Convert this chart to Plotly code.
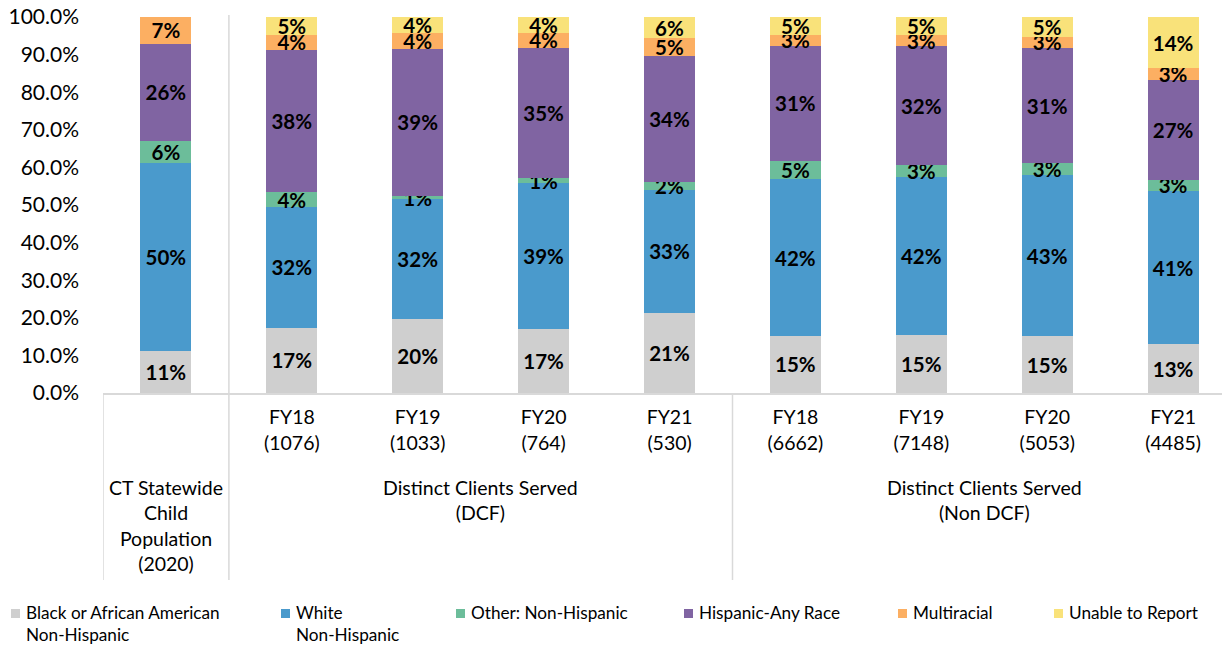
import plotly.graph_objects as go

# ---------------- data ----------------
tick_labels = ["", "FY18<br>(1076)", "FY19<br>(1033)", "FY20<br>(764)", "FY21<br>(530)",
               "FY18<br>(6662)", "FY19<br>(7148)", "FY20<br>(5053)", "FY21<br>(4485)"]
group_labels = ["CT Statewide<br>Child<br>Population<br>(2020)",
                "Distinct Clients Served<br>(DCF)",
                "Distinct Clients Served<br>(Non DCF)"]
y_ticks = [0, 10, 20, 30, 40, 50, 60, 70, 80, 90, 100]

black_nh = [11.2, 17.4, 19.7, 17.1, 21.2, 15.2, 15.3, 15.1, 13.0]
white_nh = [50.0, 32.0, 31.8, 38.8, 32.9, 41.6, 42.1, 42.9, 40.7]
other_nh = [5.9, 4.1, 0.9, 1.2, 2.0, 5.0, 3.2, 3.1, 3.0]
hispanic = [25.8, 37.7, 39.2, 34.7, 33.6, 30.6, 31.6, 30.7, 26.6]
multiracial = [7.1, 4.1, 4.2, 4.0, 4.7, 2.9, 3.1, 2.9, 3.1]
unable = [0.0, 4.7, 4.2, 4.2, 5.6, 4.7, 4.7, 5.3, 13.6]

series_names = ["Black or African American<br>Non-Hispanic", "White<br>Non-Hispanic",
                "Other: Non-Hispanic", "Hispanic-Any Race", "Multiracial", "Unable to Report"]
series_values = [black_nh, white_nh, other_nh, hispanic, multiracial, unable]
colors = ["#CFCFCF", "#4A9ACC", "#6CBD9A", "#8064A2", "#FCAF62", "#F9E27A"]

FONT = "Lato"
x_pos = list(range(len(tick_labels)))

fig = go.Figure()
for name, vals, col in zip(series_names, series_values, colors):
    fig.add_trace(go.Bar(
        x=x_pos, y=vals, name=name, marker=dict(color=col, line=dict(width=0)),
        width=0.405,
        text=[f"{round(v)}%" if v > 0 else "" for v in vals],
        textposition="inside", insidetextanchor="middle", constraintext="none",
        textangle=0, cliponaxis=False,
        textfont=dict(family=FONT, size=20.5, color="#000000", weight="bold"),
        showlegend=False,
    ))

# plot area geometry (pixels)
L, T, B = 103, 17, 252
W, H = 1222, 645
pw, ph = W - L, H - T - B

def px_x(px):
    return (px - L) / pw

def px_y(py):
    return (H - B - py) / ph

shapes = []
line_col = "#D9D9D9"
# divider lines of the category axis
shapes.append(dict(type="line", xref="x", yref="paper", x0=-0.5, x1=-0.5,
                   y0=0, y1=px_y(580), line=dict(color=line_col, width=1.5)))
shapes.append(dict(type="line", xref="x", yref="paper", x0=0.5, x1=0.5,
                   y0=px_y(15), y1=px_y(580), line=dict(color=line_col, width=1.5)))
shapes.append(dict(type="line", xref="x", yref="paper", x0=4.5, x1=4.5,
                   y0=0, y1=px_y(580), line=dict(color=line_col, width=1.5)))

annotations = []
group_centers = [0, 2.5, 6.5]
for gl, gc in zip(group_labels, group_centers):
    annotations.append(dict(x=gc, y=px_y(474), xref="x", yref="paper", text=gl,
                            showarrow=False, xanchor="center", yanchor="top", align="center",
                            font=dict(family=FONT, size=19.5, color="#000000")))

# legend (manual)
sq_x = [11, 281, 456, 684, 898, 1054]
for name, col, sx in zip(series_names, colors, sq_x):
    shapes.append(dict(type="rect", xref="paper", yref="paper",
                       x0=px_x(sx), x1=px_x(sx + 9), y0=px_y(609), y1=px_y(618),
                       fillcolor=col, line=dict(width=0)))
    annotations.append(dict(x=px_x(sx + 13), y=px_y(600), xref="paper", yref="paper",
                            text=name, showarrow=False, xanchor="left", yanchor="top",
                            align="left",
                            font=dict(family=FONT, size=17.2, color="#000000")))

fig.update_layout(
    width=W, height=H, barmode="stack",
    margin=dict(l=L, r=0, t=T, b=B, pad=0),
    plot_bgcolor="white", paper_bgcolor="white",
    font=dict(family=FONT, color="#000000"),
    shapes=shapes, annotations=annotations,
    xaxis=dict(range=[-0.5, -0.5 + pw / 125.9], tickvals=x_pos, ticktext=tick_labels,
               showline=True, linecolor=line_col, linewidth=1.5, ticks="",
               showgrid=False, zeroline=False, ticklabelstandoff=6,
               tickfont=dict(family=FONT, size=19.5, color="#000000")),
    yaxis=dict(range=[0, 100.02], tickmode="array", tickvals=y_ticks,
               ticktext=[f"{v:.1f}%" for v in y_ticks],
               showgrid=False, zeroline=False, showline=False,
               ticks="", ticklabelstandoff=23,
               tickfont=dict(family=FONT, size=21, color="#000000")),
)

fig.write_html("out.html", config={"displayModeBar": False},
               post_script="document.body.style.margin='0';")
